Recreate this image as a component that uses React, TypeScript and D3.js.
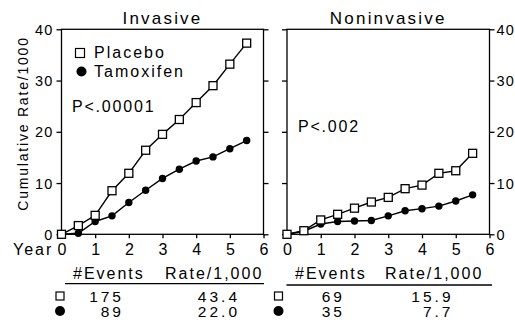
import * as d3 from "d3";
import React, { useEffect, useRef } from "react";

const years = [0, 0.5, 1, 1.5, 2, 2.5, 3, 3.5, 4, 4.5, 5, 5.5];
const invasivePlacebo = [0, 1.7, 3.7, 8.5, 11.9, 16.4, 19.5, 22.4, 25.7, 29.0, 33.2, 37.3];
const invasiveTamoxifen = [0, 0.2, 2.5, 3.6, 6.2, 8.6, 10.9, 12.7, 14.3, 15.1, 16.7, 18.3];
const noninvasivePlacebo = [0, 0.7, 2.8, 3.9, 5.1, 6.3, 7.2, 8.9, 9.6, 11.9, 12.4, 15.8];
const noninvasiveTamoxifen = [0, 0.6, 2.0, 2.5, 2.6, 2.7, 3.6, 4.6, 5.0, 5.5, 6.5, 7.7];

const xTicks = [0, 1, 2, 3, 4, 5, 6];
const yTicks = [0, 10, 20, 30, 40];

const panelTitles = ["Invasive", "Noninvasive"];
const pValues = ["P<.00001", "P<.002"];
const seriesNames = ["Placebo", "Tamoxifen"];
const tableHeaders = ["#Events", "Rate/1,000"];
const invasiveEvents = ["175", "89"];
const invasiveRates = ["43.4", "22.0"];
const noninvasiveEvents = ["69", "35"];
const noninvasiveRates = ["15.9", "7.7"];

const FONT = "'Liberation Sans', Arial, Helvetica, sans-serif";

const App: React.FC = () => {
  const ref = useRef<SVGSVGElement>(null);

  useEffect(() => {
    const svg = d3.select(ref.current).html("");
    svg.attr("font-family", FONT).attr("fill", "#000");

    const y = d3.scaleLinear().domain([0, 40]).range([234.3, 29.3]);

    const panels = [
      {
        x: d3.scaleLinear().domain([0, 6]).range([61.5, 263.5]),
        placebo: invasivePlacebo,
        tamox: invasiveTamoxifen,
        title: panelTitles[0],
        p: pValues[0],
        pPos: [72, 112],
        labelsLeft: true,
        events: invasiveEvents,
        rates: invasiveRates,
        table: { sym: 60, evEnd: 121, rateEnd: 237, h1: 73, h2: 165, ul: [65, 264], ulY: 283.7 },
      },
      {
        x: d3.scaleLinear().domain([0, 6]).range([287, 489.5]),
        placebo: noninvasivePlacebo,
        tamox: noninvasiveTamoxifen,
        title: panelTitles[1],
        p: pValues[1],
        pPos: [298, 132],
        labelsLeft: false,
        events: noninvasiveEvents,
        rates: noninvasiveRates,
        table: { sym: 278.5, evEnd: 342, rateEnd: 450.5, h1: 295, h2: 385, ul: [286.5, 492], ulY: 285 },
      },
    ];

    panels.forEach((pn) => {
      const [x0, x1] = pn.x.range();
      const g = svg.append("g");

      // frame
      g.append("rect")
        .attr("x", x0)
        .attr("y", y(40))
        .attr("width", x1 - x0)
        .attr("height", y(0) - y(40))
        .attr("fill", "none")
        .attr("stroke", "#000")
        .attr("stroke-width", 1.3);

      // y axes on both sides
      const left = g
        .append("g")
        .attr("transform", `translate(${x0},0)`)
        .call(d3.axisLeft(y).tickValues(yTicks).tickSize(5).tickSizeOuter(0));
      const right = g
        .append("g")
        .attr("transform", `translate(${x1},0)`)
        .call(d3.axisRight(y).tickValues(yTicks).tickSize(5).tickSizeOuter(0));
      [left, right].forEach((a) => {
        a.select(".domain").remove();
        a.selectAll("line").attr("stroke-width", 1.3);
        a.selectAll("text")
          .attr("font-size", 14.5)
          .attr("letter-spacing", 1.2)
          .attr("font-family", FONT)
          .attr("dy", "0.35em");
      });
      if (pn.labelsLeft) {
        right.selectAll("text").remove();
        left.selectAll("text").attr("x", -8);
      } else {
        left.selectAll("text").remove();
        right.selectAll("text").attr("x", 7);
      }

      // x axis
      const bottom = g
        .append("g")
        .attr("transform", `translate(0,${y(0)})`)
        .call(
          d3
            .axisBottom(pn.x)
            .tickValues(xTicks)
            .tickFormat(d3.format("d"))
            .tickSize(4)
            .tickSizeOuter(0)
        );
      bottom.select(".domain").remove();
      bottom.selectAll("line").attr("stroke-width", 1.3);
      bottom
        .selectAll("text")
        .attr("font-size", 16)
        .attr("font-family", FONT)
        .attr("y", 20.7)
        .attr("dy", 0);

      // title
      g.append("text")
        .attr("x", (x0 + x1) / 2)
        .attr("y", 24)
        .attr("text-anchor", "middle")
        .attr("font-size", 17)
        .attr("letter-spacing", 2.2)
        .text(pn.title);

      // p value
      g.append("text")
        .attr("x", pn.pPos[0])
        .attr("y", pn.pPos[1])
        .attr("font-size", 16)
        .attr("letter-spacing", 1.8)
        .text(pn.p);

      // lines
      const lineOf = (vals: number[]) =>
        d3
          .line<number>()
          .x((_, i) => pn.x(years[i]))
          .y((d) => y(d))(vals);

      g.append("path")
        .attr("d", lineOf(pn.placebo))
        .attr("fill", "none")
        .attr("stroke", "#000")
        .attr("stroke-width", 1.4);
      g.append("path")
        .attr("d", lineOf(pn.tamox))
        .attr("fill", "none")
        .attr("stroke", "#000")
        .attr("stroke-width", 1.4);

      g.selectAll("circle.tam")
        .data(pn.tamox)
        .enter()
        .append("circle")
        .attr("class", "tam")
        .attr("cx", (_, i) => pn.x(years[i]))
        .attr("cy", (d) => y(d))
        .attr("r", 3.7)
        .attr("fill", "#000");

      g.selectAll("rect.pla")
        .data(pn.placebo)
        .enter()
        .append("rect")
        .attr("class", "pla")
        .attr("x", (_, i) => pn.x(years[i]) - 4)
        .attr("y", (d) => y(d) - 4)
        .attr("width", 8)
        .attr("height", 8)
        .attr("fill", "#fff")
        .attr("stroke", "#000")
        .attr("stroke-width", 1.3);

      // table below
      const t = pn.table;
      g.append("text").attr("x", t.h1).attr("y", 279).attr("font-size", 16).attr("letter-spacing", 2).text(tableHeaders[0]);
      g.append("text").attr("x", t.h2).attr("y", 279).attr("font-size", 16).attr("letter-spacing", 2).text(tableHeaders[1]);
      g.append("line")
        .attr("x1", t.ul[0])
        .attr("x2", t.ul[1])
        .attr("y1", t.ulY)
        .attr("y2", t.ulY)
        .attr("stroke", "#000")
        .attr("stroke-width", 1.3);

      const rowY = [302, 317];
      g.append("rect")
        .attr("x", t.sym - 4)
        .attr("y", 292)
        .attr("width", 8)
        .attr("height", 8)
        .attr("fill", "#fff")
        .attr("stroke", "#000")
        .attr("stroke-width", 1.2);
      g.append("circle").attr("cx", t.sym).attr("cy", 311).attr("r", 5).attr("fill", "#000");

      rowY.forEach((ry, i) => {
        g.append("text")
          .attr("x", t.evEnd + 3)
          .attr("y", ry)
          .attr("text-anchor", "end")
          .attr("font-size", 15.5)
          .attr("letter-spacing", 3)
          .text(pn.events[i]);
        g.append("text")
          .attr("x", t.rateEnd + 3)
          .attr("y", ry)
          .attr("text-anchor", "end")
          .attr("font-size", 15.5)
          .attr("letter-spacing", 3)
          .text(pn.rates[i]);
      });
    });

    // legend (left panel)
    svg.append("rect")
      .attr("x", 75.5)
      .attr("y", 48.5)
      .attr("width", 9)
      .attr("height", 9)
      .attr("fill", "#fff")
      .attr("stroke", "#000")
      .attr("stroke-width", 1.2);
    svg.append("circle").attr("cx", 81.5).attr("cy", 71.5).attr("r", 5).attr("fill", "#000");
    svg.append("text").attr("x", 94).attr("y", 58).attr("font-size", 16).attr("letter-spacing", 2).text(seriesNames[0]);
    svg.append("text").attr("x", 94).attr("y", 76.5).attr("font-size", 16).attr("letter-spacing", 2).text(seriesNames[1]);

    // y axis title
    svg.append("text")
      .attr("transform", "translate(28,123.5) rotate(-90)")
      .attr("text-anchor", "middle")
      .attr("font-size", 14)
      .attr("letter-spacing", 1.8)
      .text("Cumulative Rate/1000");

    // x axis "Year"
    svg.append("text").attr("x", 13).attr("y", 255).attr("font-size", 16).attr("letter-spacing", 2).text("Year");
  }, []);

  return (
    <svg
      ref={ref}
      width={515}
      height={325}
      style={{ position: "absolute", left: 0, top: 0, background: "#fff" }}
    ></svg>
  );
};

export default App;
